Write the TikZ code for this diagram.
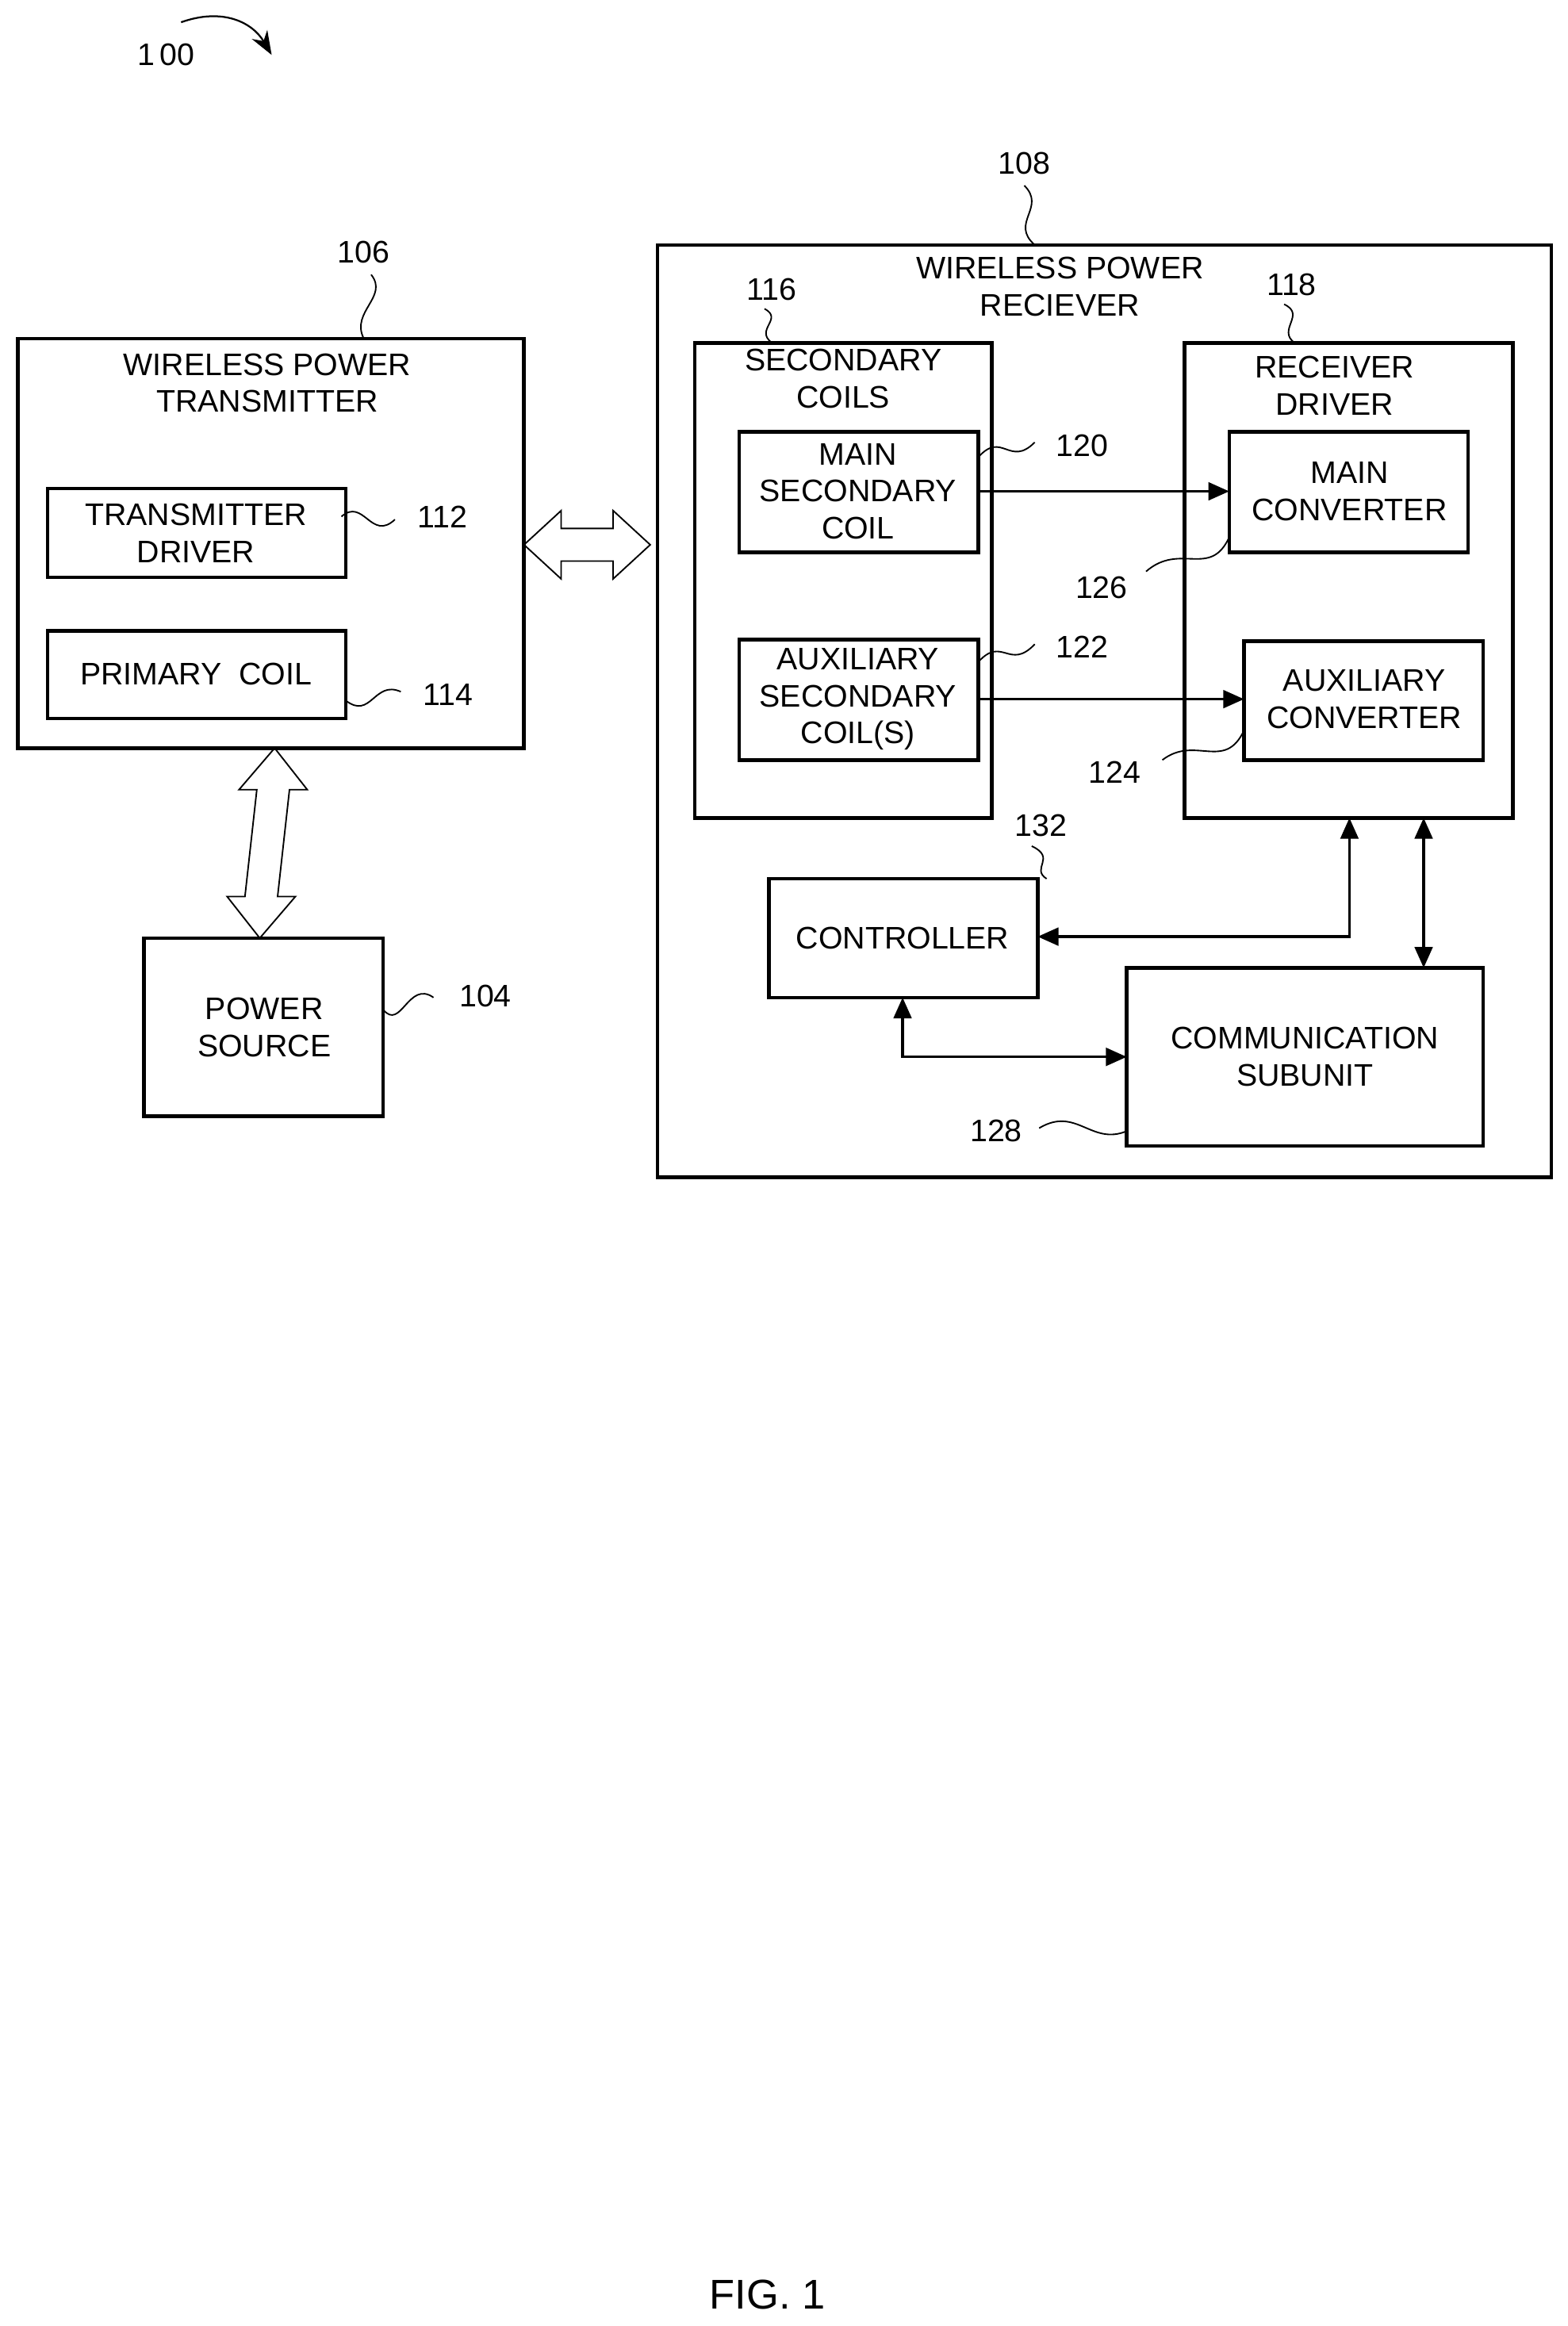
\documentclass[tikz,border=0pt]{standalone}
\usepackage{fontspec}
\setmainfont{Liberation Sans}
\usetikzlibrary{arrows.meta,shapes.arrows}
\begin{document}
\begin{tikzpicture}[x=0.5pt,y=-0.5pt,
 box/.style={draw,line width=1.2pt},
 lbl/.style={font=\fontsize{10.5}{12.5}\selectfont,align=center,inner sep=0},
 num/.style={font=\fontsize{10.5}{12}\selectfont,inner sep=0},
 lead/.style={line width=0.5pt},
 arr/.style={line width=0.9pt,-{Triangle[length=7pt,width=6pt]}},
 darr/.style={line width=0.9pt,{Triangle[length=7pt,width=6pt]}-{Triangle[length=7pt,width=6pt]}}]
\useasboundingbox (0,0) rectangle (1056,1567);
% 100
\node[num] (n100) at (112,37) {1\,00};
\coordinate (a1) at (122,15); \coordinate (a2) at (183,37);
\draw[line width=0.6pt,-{Stealth[length=8pt]}] (a1) .. controls (150,5) and (170,15) .. (a2);
% transmitter
\draw[box] (12,228) rectangle (353,504);
\node[lbl] (tt) at (180,258) {WIRELESS POWER\\TRANSMITTER};
\node[num] (n106) at (245,170) {106};
\draw[lead] (250,185) .. controls (262,200) and (236,210) .. (245,228);
\draw[box] (32,329) rectangle (233,389);
\node[lbl] (td) at (132,359) {TRANSMITTER\\DRIVER};
\node[num] (n112) at (298,348) {112};
\draw[lead] (230,348) .. controls (245,335) and (250,365) .. (266,350);
\draw[box] (32,425) rectangle (233,484);
\node[lbl] (pc) at (132,454) {PRIMARY\ \ COIL};
\node[num] (n114) at (302,468) {114};
\draw[lead] (233,472) .. controls (250,485) and (252,458) .. (270,466);
% power source
\draw[box] (97,632) rectangle (258,752);
\node[lbl] (ps) at (178,692) {POWER\\SOURCE};
\node[num] (n104) at (327,671) {104};
\draw[lead] (258,680) .. controls (270,695) and (275,660) .. (292,672);
% hollow arrows
\draw[line width=0.5pt] (185,504) -- (207,532) -- (195,532) -- (187,604) -- (199,604) -- (175,632) -- (153,604) -- (165,604) -- (173,532) -- (161,532) -- cycle;
\draw[line width=0.5pt] (353,367) -- (378,344) -- (378,356) -- (413,356) -- (413,344) -- (438,367) -- (413,390) -- (413,378) -- (378,378) -- (378,390) -- cycle;
% receiver
\draw[box] (443,165) rectangle (1045,793);
\node[lbl] (rt) at (714,193) {WIRELESS POWER\\RECIEVER};
\node[num] (n108) at (690,110) {108};
\draw[lead] (690,125) .. controls (705,140) and (680,150) .. (697,165);
% secondary coils
\draw[box] (468,231) rectangle (668,551);
\node[lbl] (sc) at (568,255) {SECONDARY\\COILS};
\node[num] (n116) at (520,195) {116};
\draw[lead] (515,208) .. controls (528,215) and (508,222) .. (520,231);
\draw[box] (498,291) rectangle (659,372);
\node[lbl] (msc) at (578,331) {MAIN\\SECONDARY\\COIL};
\node[num] (n120) at (729,300) {120};
\draw[lead] (659,308) .. controls (675,290) and (680,315) .. (697,298);
\draw[box] (498,431) rectangle (659,512);
\node[lbl] (asc) at (578,471) {AUXILIARY\\SECONDARY\\COIL(S)};
\node[num] (n122) at (729,436) {122};
\draw[lead] (659,446) .. controls (675,428) and (680,452) .. (697,434);
% receiver driver
\draw[box] (798,231) rectangle (1019,551);
\node[lbl] (rd) at (899,260) {RECEIVER\\DRIVER};
\node[num] (n118) at (870,192) {118};
\draw[lead] (865,205) .. controls (880,212) and (860,222) .. (872,231);
\draw[box] (828,291) rectangle (989,372);
\node[lbl] (mc) at (909,331) {MAIN\\CONVERTER};
\node[num] (n126) at (742,396) {126};
\draw[lead] (772,385) .. controls (795,365) and (815,390) .. (828,362);
\draw[box] (838,432) rectangle (999,512);
\node[lbl] (ac) at (919,471) {AUXILIARY\\CONVERTER};
\node[num] (n124) at (751,520) {124};
\draw[lead] (783,512) .. controls (805,495) and (825,520) .. (838,492);
\draw[arr] (659,331) -- (828,331);
\draw[arr] (659,471) -- (838,471);
% controller
\draw[box] (518,592) rectangle (699,672);
\node[lbl] (ctl) at (608,632) {CONTROLLER};
\node[num] (n132) at (701,556) {132};
\draw[lead] (695,570) .. controls (712,578) and (694,585) .. (705,592);
% comm
\draw[box] (759,652) rectangle (999,772);
\node[lbl] (cs) at (879,712) {COMMUNICATION\\SUBUNIT};
\node[num] (n128) at (671,762) {128};
\draw[lead] (700,760) .. controls (725,745) and (735,772) .. (759,762);
\draw[darr] (699,631) -- (909,631) -- (909,551);
\draw[darr] (959,551) -- (959,652);
\draw[darr] (608,672) -- (608,712) -- (759,712);
\node[font=\fontsize{14}{16}\selectfont,inner sep=0] (fig) at (517,1546) {FIG. 1};
\end{tikzpicture}
\end{document}
